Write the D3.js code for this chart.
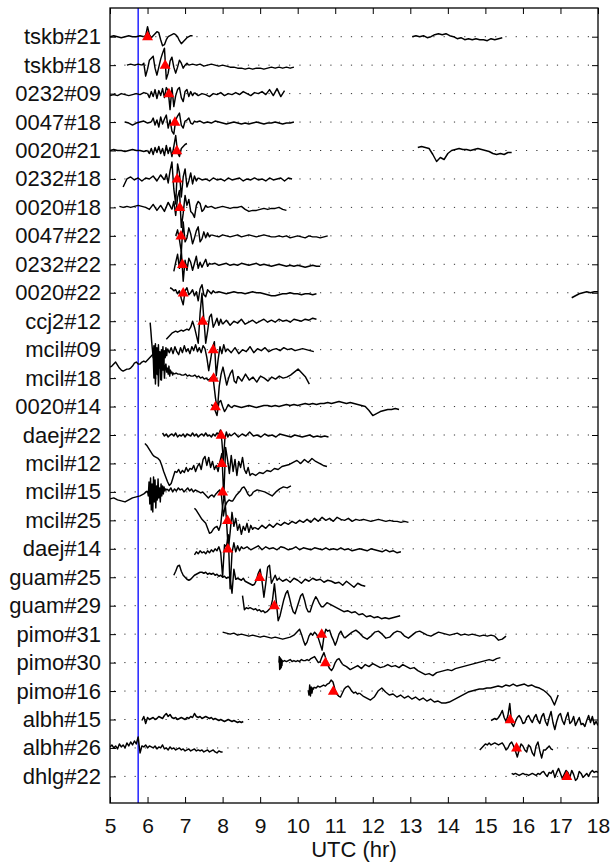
<!DOCTYPE html>
<html>
<head>
<meta charset="utf-8">
<script src="https://cdn.jsdelivr.net/npm/d3@7"></script>
<style>
  body { margin: 0; background: #fff; }
  text { font-family: "Liberation Sans", Arial, Helvetica, sans-serif; }
</style>
</head>
<body>
<svg id="chart" width="611" height="866"></svg>
<script>
// station / satellite pairs, top to bottom
const stations = ["tskb#21","tskb#18","0232#09","0047#18","0020#21","0232#18","0020#18","0047#22",
  "0232#22","0020#22","ccj2#12","mcil#09","mcil#18","0020#14","daej#22","mcil#12","mcil#15",
  "mcil#25","daej#14","guam#25","guam#29","pimo#31","pimo#30","pimo#16","albh#15","albh#26","dhlg#22"];

// picked arrival time (UTC hr) for each row, red triangles
const arrivals = [6.0,6.47,6.57,6.73,6.78,6.79,6.86,6.89,6.93,6.95,7.47,7.75,7.76,7.81,7.96,7.98,
  8.0,8.13,8.14,8.99,9.38,10.64,10.74,10.95,15.66,15.83,17.17];

const eventTime = 5.75;   // blue line
const hourTicks = d3.range(5, 19);

// traces: each part is [start hr, step hr, samples]
const w_tskb21 = [
  [5.0, 0.1, [0,1,0,-1,0,1,0,0,1,0]],
  [5.9, 0.05, [0,1,10,2,-1,1,3,5,4,-3,-9,-8,-3,0,1,2,3,2,0,-4,-7,-5,-3,-1,0,1,1]],
  [13.05, 0.1, [0,1,0,1,-1,0,2,3,2,3,1,0,-2,-1,-3,-2,-3,-2,-3,-3,-4,-2,-3,-2,-1]]
];
const w_tskb18 = [
  [5.45, 0.1, [0,1,0,1,0]],
  [5.85, 0.05, [0,2,-11,-4,5,7,9,-3,-10,-2,6,12,17,-14,-8,4,8,-2,-8,-2,5,2,-3,0,2,0]],
  [7.1, 0.1, [0,1,0,1,-1,0,1,0,-1,0,-1,-2,-2,-3,-3,-4,-3,-4,-3,-3,-4,-3,-2,-3,-2,-3,-2,-3,-2]]
];
const w_0232_09 = [
  [5.0, 0.1, [-2,-1,-2,0,-1,-2,-1,0,-1,1,0]],
  [6.0, 0.05, [0,-4,2,-3,4,-5,3,-2,5,-4,6,3,-16,6,-13,-2,4,6,-4,-8,2,4,-3,2,-2,1]],
  [7.25, 0.1, [1,-2,0,-1,-3,0,-1,1,-2,0,-1,1,-1,2,0,-2,1,0,2,-1,4,-2,5,-3,3]]
];
const w_0047_18 = [
  [5.4, 0.1, [0,-1,-3,-1,0,1,-1,0]],
  [6.1, 0.05, [0,4,-3,2,-5,5,-2,3,7,-6,2,-9,-12,2,6,9,-3,-6,1,2,4,-1,-2,1,0]],
  [7.3, 0.1, [0,1,-1,0,-1,1,0,-1,-2,-1,0,-1,-2,-1,-2,-1,0,-1,-2,-1,-1,0,-1,-2,-1,-1,0]]
];
const w_0020_21 = [
  [5.0, 0.1, [0,1,0,0,-1,0,1,0,0,-1,0]],
  [6.0, 0.05, [0,-3,2,-4,3,-2,4,-3,2,-5,5,-3,3,-6,4,15,-2,-6,2,4,6,7]],
  [13.2, 0.1, [3,4,3,2,-4,-11,-7,-9,-3,0,1,2,1,1,0,1,2,1,0,-1,-3,-4,-3,-4,-2,-2]]
];
const w_0232_18 = [
  [5.35, 0.1, [-8,0,2,-1,1,-2,1,0,3,-2,4,-1]],
  [6.45, 0.05, [-1,5,-4,8,17,-10,-25,15,6,-18,2,10,-8,-2,6,-5,3,-2,1]],
  [7.35, 0.1, [1,-1,0,-2,1,-1,0,-2,1,-1,0,1,-2,0,-1,1,-1,0,-2,1,-1,0,1,-2,1,0]]
];
const w_0020_18 = [
  [5.25, 0.1, [1,0,1,0,1,2,1,0,-2,3,-3,2,-4,5,-2]],
  [6.65, 0.05, [-2,6,-8,10,17,-20,-6,12,2,8,-4,-6,-10,2,6,4,-4,-2,2,0]],
  [7.6, 0.1, [0,1,-1,0,1,0,-1,0,0,1,-2,-4,-3,-3,-2,-1,-2,-1,-1,0,-2,-3]]
];
const w_0047_22 = [
  [6.75, 0.05, [0,6,-4,-16,14,-6,-2,8,2,-8,-2,5,9,-6,-3,4,-2,3,-1,1]],
  [7.7, 0.1, [1,0,-1,1,0,-1,0,1,-1,0,1,0,-1,0,1,0,-1,-1,0,-1,0,-2,-1,0,-1,-2,0,-1,-1,-2,-1,0]]
];
const w_0232_22 = [
  [6.7, 0.05, [-7,2,10,-4,14,-17,4,-6,6,2,-6,1,8,-4,2,-3,1,5,-2,1,0]],
  [7.7, 0.1, [0,1,-1,0,1,-1,0,-1,1,0,-1,0,1,-1,0,-1,-2,-1,0,-1,-2,-1,-2,-1,-2,-3,-2,-1,-2,-2]]
];
const w_0020_22 = [
  [6.6, 0.05, [5,4,2,3,-1,2,-6,-12,2,5,-2,0,3,-3,1,-8,4,8,-2,-4,3,1,-1,2,0]],
  [7.8, 0.1, [0,1,0,-1,0,1,0,0,-1,0,1,0,0,-1,-2,-3,-3,-2,-1,-1,0,-1,-1,-2,-1,-1,-2,-1]],
  [17.3, 0.1, [-5,-3,-1,0,1,0,1,1]]
];
const w_ccj2_12 = [
  [6.5, 0.05, [-18,-16,-14,-12,-11,-10,-11,-10,-9,-10,-9,-8,-9,-6,0,-6,-14,-22,8,28,2,-22,-10,4,7,-6,-2,3,-4,2,-3]],
  [8.0, 0.1, [-3,1,-4,0,-2,2,-3,-1,1,-2,0,2,-1,1,-1,2,0,1,-1,2,1,0,2,1,3,2]]
];
const w_mcil09 = [
  [6.07, 0.02, [27,18,8,0,-8,4,-14,6,-20,2,-25,5,-18,-2,-30,0,-12,3,-15,-1,-8,2,-6,1]],
  [6.53, 0.05, [1,-3,2,-4,3,-2,-5,2,-3,4,-2,1,-4,3,-1,5,-2,2,-3,4,1,-8,-21,-10,2,8,-26,-10,3,-4,5,-2,1]],
  [8.13, 0.1, [1,-3,2,-4,0,-2,3,-3,1,-1,2,-2,0,1,-1,2,0,1,-1,0,1,0,-1,-2]]
];
const w_mcil18 = [
  [5.0, 0.05, [11,12,14,16,13,10,8,7,8,9,9,10,12,15,16,14,14,16,17,16,18,20,22,24]],
  [6.15, 0.02, [24,0,20,-6,18,4,26,-8,14,10,22,-2,16,8,20,0,12,14,6,10,4,12,2,8,5,6,3,5,4]],
  [6.71, 0.05, [4,5,4,4,3,3,4,2,3,2,2,3,1,2,0,1,-1,0,-2,-1,1,-4,-20,-32,-8,4,11,2,-7,0,5,8,-3,-5,2]],
  [8.41, 0.1, [2,-3,4,-2,1,-4,2,0,-3,1,-1,2,0,1,3,6,9,5,1,-6]]
];
const w_0020_14 = [
  [7.7, 0.05, [2,0,-4,-9,4,6,0,-5,-2,2,0,-1,1]],
  [8.3, 0.1, [1,0,-1,0,1,0,-1,0,1,1,0,1,0,1,2,1,2,1,2,3,2,3,2,3,3,4,3,4,5,4,3,4,3,2,1,0,-4,-9,-7,-5,-4,-3,-3,-2,-3]]
];
const w_daej22 = [
  [6.4, 0.05, [2,-1,1,-2,0,1,-1,2,-2,0,-1,1,-2,1,0,-1,2,-1,1,-2,0,1,-1,2,-1,0,-2,1,-1,2,1]],
  [7.9, 0.04, [1,5,-6,-26,-4,3,-2,1,-1]],
  [8.22, 0.1, [-1,2,-2,1,-1,3,-1,0,-2,1,-1,0,-2,1,0,-1,-2,0,-1,-2,-1,0,-2,-1,-2,-1,-2]]
];
const w_mcil12 = [
  [5.93, 0.05, [20,18,15,12,9,7,6,5,3,-2,-8,-13,-18,-22,-20,-14,-8,-9,-6,-10,-7,-9,-4,-8,-5,-6,-2,-8,-3,0,
    -6,4,7,-2,6,-4,2,-6,-2,-8,2,10,-34,16,4,-10,8,-8,4,-12,2,-4,6,-6,-10,-4,-12,-10]],
  [8.78, 0.1, [-10,-12,-9,-10,-7,-8,-5,-6,-3,-2,-1,1,3,0,4,1,5,2,0,-2,-3]]
];
const w_mcil15 = [
  [5.0, 0.1, [-7,-6,-8,-9,-10,-8,-6,-5,-4,-2,1]],
  [6.0, 0.02, [1,-4,10,-12,14,-18,8,-20,15,-10,12,-16,6,-8,13,-6,4,-10,8,-4,6,-2,5,1,3,2,3]],
  [6.52, 0.05, [3,1,4,0,3,1,4,2,3,0,2,4,1,3,0,2,1,0,-1,0,-2,-4,-6,-4,-3,-5,-2,0,2,-4,
    -24,-14,-10,-8,-9,-9,-6,-3,-1,1,4,5,2,-2,-4,-3,0]],
  [8.82, 0.1, [0,2,1,0,-2,-4,0,3,5,4,6]]
];
const w_mcil25 = [
  [7.25, 0.05, [12,10,7,4,1,-1,-3,-8,-13,-12,-9,-7,-6,-10,-4,14,26,2,-30,-12,8,-6,2,-10,-4,-14,-6,-10,-3,-12,-5,-9,-7]],
  [8.85, 0.1, [-7,-9,-5,-8,-4,-7,-3,-5,-2,-4,-1,-3,0,-2,1,-2,2,-1,3,0,2,-1,3,1,0,2,-1,1,0,1,
    0,-1,0,1,0,-1,0,-1,-1,-2,-1,-2]]
];
const w_daej14 = [
  [7.25, 0.05, [-6,-3,-5,-2,-4,-3,-5,-2,-4,-1,-3,0,-2,2,-4,-28,4,2,14,-40,-4,6,-3,3,-2,2,0]],
  [8.55, 0.1, [0,2,-1,1,3,-1,2,0,1,-1,2,1,-1,0,2,-1,1,0,-1,1,0,-1,1,-1,0,-1,1,-1,0,-2,
    -1,0,-1,-2,0,-1,-2,-3,-1,-3,-2,-4,-3]]
];
const w_guam25 = [
  [6.7, 0.05, [2,6,11,12,6,2,0,-2,-3,-2,0,2,3,4,5,5,4,5,3,4,3,4,2,3,1,2,0,1,-1,0,
    -1,-16,8,-2,-1,-2,-3,-1,-4,-5,-6,-7,-8,-7,-3,4,8,-4,-20,-6,10,12,-6,-2,2,-3,-1]],
  [9.5, 0.1, [-1,-4,-2,-5,-1,-3,-6,-2,-4,-1,-3,-2,-5,-3,-4,-6,-5,-8,-4,-7,-10,-6,-8,-9]]
];
const w_guam29 = [
  [8.53, 0.05, [10,-4,-2,-3,-2,-3,-4,-3,-5,-4,-6,-5,-7,-6,-4,-2,6,22,4,-15,-10,-2,6,12,15,8,0,-6,-8,-2,
    4,10,12,6,-2,-6,-6,0,5,9,6,2,-1,-1,1,3,2]],
  [10.83, 0.1, [2,0,-2,-4,-6,-5,-7,-6,-9,-8,-11,-10,-12,-11,-13,-12,-13,-12,-11,-10]]
];
const w_pimo31 = [
  [8.0, 0.1, [2,1,0,1,-1,0,-1,-2,-1,-2,-3,-2,-3,-4,-3,-4,-5,-4,-3,-1]],
  [9.9, 0.05, [-1,1,3,5,0,-6,-11,-8,-2,1,-1,2,0,-4,-10,-16,-2,5,3,4,-2,-6,-11,-6,0,3,-1,-4]],
  [11.25, 0.1, [-4,-1,2,4,1,-3,-5,-2,2,3,0,-4,-3,1,3,2,-2,-4,-1,2,3,1,-1,-2,0,2,1,0,-1,0,
    1,-1,0,-1,0,-1,-2,-1,-2,-1,-2,-6,-5,-2]]
];
const w_pimo30 = [
  [9.5, 0.01, [0,6,-7,5,-6,4,-5,3,-3,2,1]],
  [9.6, 0.05, [1,2,1,2,3,1,2,1,2,1,3,2,2,3,2,4,5,6,3,0,1,6,10,4,-2,-6,-8,-5,0,3,4,1,-2]],
  [11.2, 0.1, [-2,-4,-7,-5,-3,-6,-2,-4,-1,-3,-5,-4,-2,-4,-3,-5,-2,-4,-6,-5,-8,-10,-12,-11,-13,-10,-9,-8,-7,-8,
    -6,-5,-4,-3,-2,-1,0,1,2,3,2,4,5]]
];
const w_pimo16 = [
  [10.28, 0.02, [1,-4,6,-5,4,-2,3,2,4]],
  [10.44, 0.05, [4,3,5,4,5,6,5,7,8,11,9,2,-3,-5,-6,-2,2,4,5,3,0,-2,-1,-3,-2]],
  [11.64, 0.1, [-2,-5,-7,-9,-6,0,3,-1,-4,-3,-6,-4,-7,-5,-8,-6,-9,-7,-10,-8,-11,-10,-12,-12,-11,-9,-7,-5,-3,-1,
    0,1,2,2,3,3,4,5,4,6,5,7,5,6,7,5,6,4,3,1,-2,-6,-14,-4]]
];
const w_albh15 = [
  [5.85, 0.05, [-1,3,-4,2,0,1,2,0,1,3,2,1,4,6,3,5,2,1,2,0,1,2,1,0,2,1,3,2,6,3,
    2,3,1,2,3,2,1,2,0,1,0,-1,0,-1,-2,-1,0,-1,-2,-1,-2,-3,-2,-3,-2]],
  [15.15, 0.05, [-1,0,1,0,2,5,9,2,-2,4,16,-4,-7,-2,2,4,1,-4,-3,2,4,0,-3,2,5,-1,-4,3,6,-2,
    -6,2,8,-3,-10,-2,4,6,-1,-5,2,7,-4,-2,3,-6,-2,2,-5,-4,-7,-1,4,-3,3,-5,-2,-6]]
];
const w_albh26 = [
  [5.0, 0.05, [1,3,0,2,-1,4,1,3,0,5,2,6,3,7,4,11,-5,2,1,3,0,2,1,0,2,-1,1,0,3,-1,
    0,-2,1,-1,0,-2,-1,0,-2,-1,-3,-2,-1,-3,-2,-1,-3,-2,-3,-2,-4,-3,-2,-4,-3,-2,-4,-5,-3,-4,-4]],
  [14.85, 0.05, [-2,0,2,4,3,5,3,4,5,4,3,4,5,2,-2,0,4,6,2,-3,-9,-2,4,2,-2,-4,3,1,-5,-8,
    2,6,-3,-10,-2,-2,0,2,-1,-2]]
];
const w_dhlg22 = [
  [15.7, 0.05, [3,2,3,2,1,2,3,2,2,1,2,3,2,1,3,2,4,5,2,0,4,3,6,-1,4,8,3,-2,2,6,
    4,-1,6,2,-4,-2,5,3,-1,1,3,0,4,6,4,5,4]]
];

const traces = [w_tskb21, w_tskb18, w_0232_09, w_0047_18, w_0020_21, w_0232_18, w_0020_18, w_0047_22,
  w_0232_22, w_0020_22, w_ccj2_12, w_mcil09, w_mcil18, w_0020_14, w_daej22, w_mcil12, w_mcil15,
  w_mcil25, w_daej14, w_guam25, w_guam29, w_pimo31, w_pimo30, w_pimo16, w_albh15, w_albh26, w_dhlg22];

// layout
const plotLeft = 110, plotRight = 598, plotTop = 8, plotBottom = 803;
const svg = d3.select("#chart");

const x = d3.scaleLinear().domain([5, 18]).range([plotLeft, plotRight]);
const y = d3.scalePoint().domain(stations).range([plotTop + 28.7, plotBottom - 26.6]);
const amp = d3.scaleLinear().domain([0, 1]).range([0, -1]);   // sample units -> px offset

svg.append("clipPath").attr("id", "plot")
  .append("rect").attr("x", plotLeft).attr("y", plotTop)
  .attr("width", plotRight - plotLeft).attr("height", plotBottom - plotTop);

// dotted row lines
svg.append("g").selectAll("line").data(stations).join("line")
  .attr("x1", plotLeft + 4).attr("x2", plotRight)
  .attr("y1", d => y(d)).attr("y2", d => y(d))
  .attr("stroke", "#333").attr("stroke-width", 1)
  .attr("stroke-dasharray", "1.2,9.1");

// event line
svg.append("line")
  .attr("x1", x(eventTime)).attr("x2", x(eventTime))
  .attr("y1", plotTop).attr("y2", plotBottom)
  .attr("stroke", "#0000ff").attr("stroke-width", 1.3);

// waveforms
const line = d3.line().x(d => x(d[0])).y(d => d[1]);
const wg = svg.append("g").attr("clip-path", "url(#plot)");
traces.forEach((parts, i) => {
  const y0 = y(stations[i]);
  parts.forEach(([t0, dt, v]) => {
    const pts = v.map((a, k) => [t0 + k * dt, y0 + amp(a)]);
    wg.append("path")
      .attr("d", line(pts))
      .attr("fill", "none")
      .attr("stroke", "#000")
      .attr("stroke-width", 1.45)
      .attr("stroke-linejoin", "round");
  });
});

// arrival picks
svg.append("g").selectAll("path").data(arrivals).join("path")
  .attr("d", d3.symbol(d3.symbolTriangle, 52))
  .attr("transform", (d, i) => `translate(${x(d)},${y(stations[i]) + 0.5})`)
  .attr("fill", "#ff0000");

// axes (ticks pointing inward)
const styleAxis = (g, size) => {
  g.select(".domain").remove();
  g.selectAll(".tick line").attr("stroke", "#000").attr("stroke-width", 1);
  g.selectAll("text").attr("font-size", size).attr("fill", "#111")
    .attr("font-family", "'Liberation Sans', Arial, Helvetica, sans-serif");
};

svg.append("g").attr("transform", `translate(0,${plotBottom})`)
  .call(d3.axisBottom(x).tickValues(hourTicks).tickFormat(d3.format("d")).tickSize(-6).tickPadding(15))
  .call(styleAxis, 21);
svg.append("g").attr("transform", `translate(0,${plotTop})`)
  .call(d3.axisTop(x).tickValues(hourTicks).tickFormat("").tickSize(-6))
  .call(styleAxis, 21);
svg.append("g").attr("transform", `translate(${plotLeft},0)`)
  .call(d3.axisLeft(y).tickSize(-6).tickPadding(9))
  .call(styleAxis, 22);
svg.append("g").attr("transform", `translate(${plotRight},0)`)
  .call(d3.axisRight(y).tickFormat("").tickSize(-6))
  .call(styleAxis, 22);

// frame
svg.append("rect")
  .attr("x", plotLeft).attr("y", plotTop)
  .attr("width", plotRight - plotLeft).attr("height", plotBottom - plotTop)
  .attr("fill", "none").attr("stroke", "#000").attr("stroke-width", 1.3);

// axis title
svg.append("text")
  .attr("x", (plotLeft + plotRight) / 2).attr("y", 857)
  .attr("text-anchor", "middle")
  .attr("font-size", 22).attr("fill", "#111")
  .text("UTC (hr)");
</script>
</body>
</html>
